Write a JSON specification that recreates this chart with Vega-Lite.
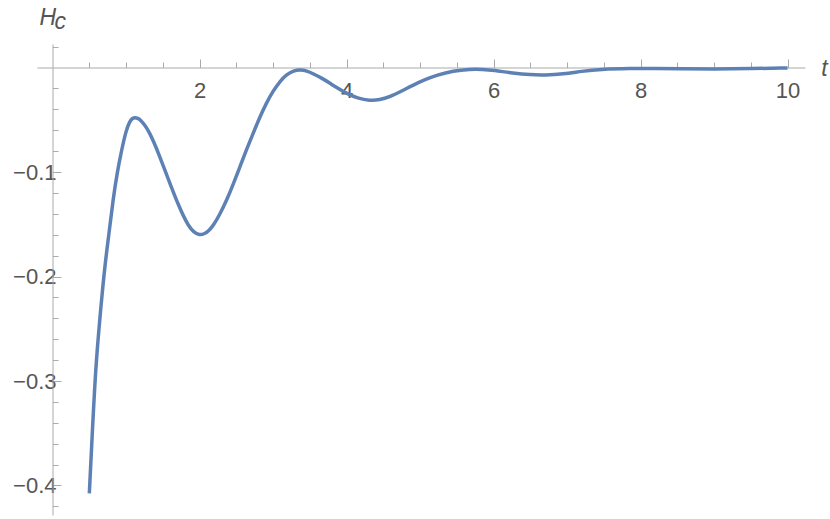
{
  "$schema": "https://vega.github.io/schema/vega-lite/v6.json",
  "autosize": "none",
  "width": 768,
  "height": 471,
  "padding": {"left": 37, "top": 44, "right": 25, "bottom": 4},
  "background": "white",
  "data": {"values": [
    {"t": 0.501, "H": -0.4075},
    {"t": 0.541, "H": -0.350},
    {"t": 0.588, "H": -0.2863},
    {"t": 0.646, "H": -0.2385},
    {"t": 0.710, "H": -0.1906},
    {"t": 0.769, "H": -0.1587},
    {"t": 0.823, "H": -0.1268},
    {"t": 0.88, "H": -0.1005},
    {"t": 0.941, "H": -0.0789},
    {"t": 1.0, "H": -0.0605},
    {"t": 1.05, "H": -0.0515},
    {"t": 1.09, "H": -0.0484},
    {"t": 1.122, "H": -0.0478},
    {"t": 1.16, "H": -0.0485},
    {"t": 1.20, "H": -0.0505},
    {"t": 1.26, "H": -0.0555},
    {"t": 1.32, "H": -0.0625},
    {"t": 1.38, "H": -0.0715},
    {"t": 1.45, "H": -0.0835},
    {"t": 1.53, "H": -0.0985},
    {"t": 1.62, "H": -0.1150},
    {"t": 1.71, "H": -0.1310},
    {"t": 1.78, "H": -0.1420},
    {"t": 1.85, "H": -0.1515},
    {"t": 1.92, "H": -0.1575},
    {"t": 2.0, "H": -0.1605},
    {"t": 2.07, "H": -0.1592},
    {"t": 2.13, "H": -0.1560},
    {"t": 2.19, "H": -0.1510},
    {"t": 2.28, "H": -0.1400},
    {"t": 2.37, "H": -0.1270},
    {"t": 2.46, "H": -0.1115},
    {"t": 2.55, "H": -0.0950},
    {"t": 2.64, "H": -0.0785},
    {"t": 2.73, "H": -0.0630},
    {"t": 2.82, "H": -0.0475},
    {"t": 2.91, "H": -0.0340},
    {"t": 3.0, "H": -0.0225},
    {"t": 3.095, "H": -0.0132},
    {"t": 3.186, "H": -0.0067},
    {"t": 3.28, "H": -0.0030},
    {"t": 3.37, "H": -0.0020},
    {"t": 3.46, "H": -0.0032},
    {"t": 3.548, "H": -0.0060},
    {"t": 3.66, "H": -0.0100},
    {"t": 3.776, "H": -0.0151},
    {"t": 3.89, "H": -0.0202},
    {"t": 4.0, "H": -0.0247},
    {"t": 4.15, "H": -0.0295},
    {"t": 4.32, "H": -0.0318},
    {"t": 4.45, "H": -0.0310},
    {"t": 4.59, "H": -0.0280},
    {"t": 4.75, "H": -0.0225},
    {"t": 4.91, "H": -0.0167},
    {"t": 5.07, "H": -0.0115},
    {"t": 5.23, "H": -0.0072},
    {"t": 5.45, "H": -0.0032},
    {"t": 5.68, "H": -0.0015},
    {"t": 5.85, "H": -0.0017},
    {"t": 6.0, "H": -0.0026},
    {"t": 6.27, "H": -0.0055},
    {"t": 6.5, "H": -0.0070},
    {"t": 6.7, "H": -0.0073},
    {"t": 6.95, "H": -0.0062},
    {"t": 7.2, "H": -0.0036},
    {"t": 7.45, "H": -0.0017},
    {"t": 7.86, "H": -0.0008},
    {"t": 8.2, "H": -0.0009},
    {"t": 8.54, "H": -0.0012},
    {"t": 8.99, "H": -0.0015},
    {"t": 9.49, "H": -0.0010},
    {"t": 10.0, "H": -0.0005}
  ]},
  "layer": [
    {
      "mark": {"type": "line", "strokeOpacity": 0},
      "encoding": {
        "x": {"field": "t", "type": "quantitative",
          "scale": {"domain": [-0.2109, 10.238], "nice": false, "zero": false},
          "axis": {"orient": "bottom", "offset": -447.5, "values": [0.5,1,1.5,2.5,3,3.5,4.5,5,5.5,6.5,7,7.5,8.5,9,9.5],
            "tickSize": -5.5, "labels": false, "domain": false, "title": null}},
        "y": {"field": "H", "type": "quantitative",
          "scale": {"domain": [-0.42823, 0.02249], "nice": false, "zero": false},
          "axis": {"orient": "left", "offset": -15.5,
            "values": [-0.42,-0.38,-0.36,-0.34,-0.32,-0.28,-0.26,-0.24,-0.22,-0.18,-0.16,-0.14,-0.12,-0.08,-0.06,-0.04,-0.02,0.02],
            "tickSize": -5.5, "labels": false, "domain": false,
            "title": "c", "titleAngle": 0, "titleX": 1.5, "titleY": -16, "titleAlign": "left", "titleBaseline": "alphabetic"}}
      }
    },
    {
      "mark": {"type": "line", "color": "#5E81B5", "strokeWidth": 3.5, "interpolate": "basis"},
      "encoding": {
        "x": {"field": "t", "type": "quantitative",
          "scale": {"domain": [-0.2109, 10.238], "nice": false, "zero": false},
          "axis": {"orient": "bottom", "offset": -447.5, "values": [2,4,6,8,10], "tickSize": -8.5,
            "labelPadding": 21, "title": "t", "titleX": 787, "titleY": 8, "titleAlign": "center", "titleBaseline": "alphabetic"}},
        "y": {"field": "H", "type": "quantitative",
          "scale": {"domain": [-0.42823, 0.02249], "nice": false, "zero": false},
          "axis": {"orient": "left", "offset": -15.5, "values": [-0.4,-0.3,-0.2,-0.1], "tickSize": -8.5,
            "labelPadding": 5, "format": ".1f",
            "title": "H", "titleAngle": 0, "titleX": -13.5, "titleY": -20, "titleAlign": "left", "titleBaseline": "alphabetic"}}
      }
    }
  ],
  "resolve": {"scale": {"x": "independent", "y": "independent"}, "axis": {"x": "independent", "y": "independent"}},
  "config": {
    "view": {"stroke": null},
    "axis": {"grid": false, "domainColor": "#aaaaaa", "tickColor": "#aaaaaa", "domainWidth": 1, "tickWidth": 1,
      "labelColor": "#555555", "labelFont": "Liberation Sans", "labelFontSize": 22, "labelFlush": false, "labelOverlap": false,
      "titleColor": "#555555", "titleFont": "Liberation Sans", "titleFontStyle": "italic", "titleFontWeight": "normal", "titleFontSize": 23}
  }
}
